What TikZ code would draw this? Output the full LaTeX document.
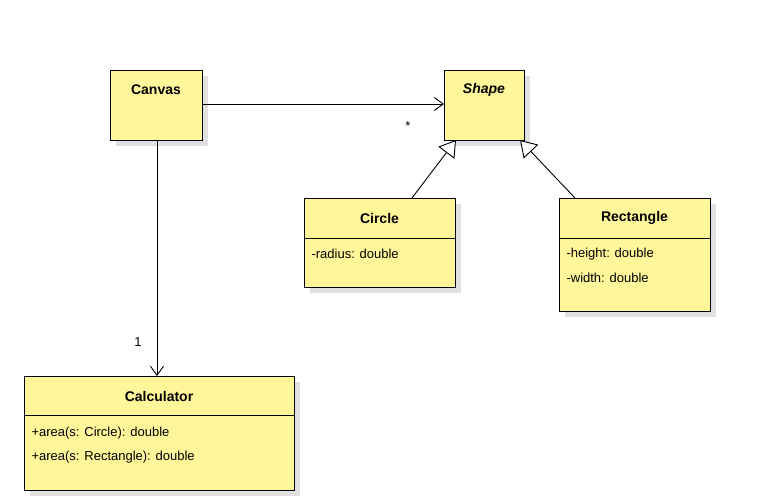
\documentclass[tikz,border=0pt]{standalone}
\usepackage{fontspec}
\setmainfont{Liberation Sans}
\usetikzlibrary{arrows.meta,shadows}
\definecolor{umlfill}{RGB}{255,247,153}
\tikzset{
  cls/.style={draw=black, fill=umlfill, line width=0.9pt, drop shadow={shadow xshift=6pt, shadow yshift=-6pt, fill=black!12, opacity=1}},
  lbl/.style={font=\fontsize{13}{15}\selectfont},
  conn/.style={line width=0.9pt},
}
\begin{document}
\begin{tikzpicture}[x=1pt,y=-1pt]
\useasboundingbox (0,0) rectangle (766,500);
% Canvas
\path[cls] (110,70) rectangle (202,140);
\node[lbl,font=\fontsize{14}{16}\selectfont\bfseries] (canvas) at (156,90) {Canvas};
\coordinate (canR) at (202,104);
\coordinate (canB) at (157,140);
% Shape
\path[cls] (444,70) rectangle (524,140);
\node[lbl,font=\fontsize{14}{16}\selectfont\bfseries\itshape] (shape) at (484,90) {Shape};
\coordinate (shL) at (444,104);
\coordinate (shB1) at (456,140);
\coordinate (shB2) at (520,140);
% Circle
\path[cls] (304,198) rectangle (455,287);
\draw[line width=0.9pt] (304,238) -- (455,238);
\node[lbl,font=\fontsize{14}{16}\selectfont\bfseries] (circle) at (379.5,218) {Circle};
\node[lbl,anchor=west] (crad) at (308,254) {-radius: double};
\coordinate (ciT) at (412,198);
% Rectangle
\path[cls] (559,198) rectangle (710,311);
\draw[line width=0.9pt] (559,238) -- (710,238);
\node[lbl,font=\fontsize{14}{16}\selectfont\bfseries] (rect) at (634.5,218) {Rectangle};
\node[lbl,anchor=west] (rh) at (563,254) {-height: double};
\node[lbl,anchor=west] (rw) at (563,278) {-width: double};
\coordinate (reT) at (575,198);
% Calculator
\path[cls] (24,376) rectangle (294,490);
\draw[line width=0.9pt] (24,415) -- (294,415);
\node[lbl,font=\fontsize{14}{16}\selectfont\bfseries] (calc) at (159,396) {Calculator};
\node[lbl,anchor=west] (a1) at (28,433) {+area(s: Circle): double};
\node[lbl,anchor=west] (a2) at (28,457) {+area(s: Rectangle): double};
\coordinate (caT) at (157,376);
% connectors
\draw[conn,-{Straight Barb[length=9pt,width=13pt]}] (canR) -- (shL);
\node[lbl] (star) at (408,126) {*};
\draw[conn,-{Straight Barb[length=9pt,width=13pt]}] (canB) -- (caT);
\node[lbl] (one) at (138,342) {1};
\draw[conn,-{Triangle[open,length=16pt,width=20pt,fill=white]}] (ciT) -- (shB1);
\draw[conn,-{Triangle[open,length=16pt,width=20pt,fill=white]}] (reT) -- (shB2);
\end{tikzpicture}
\end{document}
